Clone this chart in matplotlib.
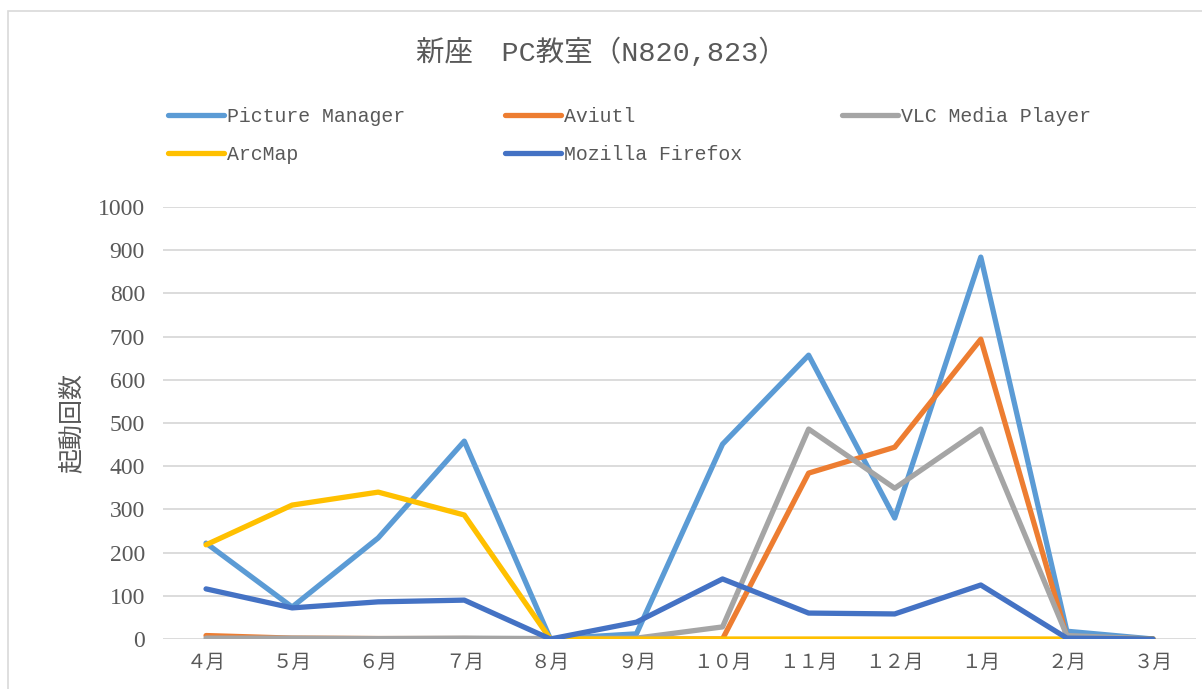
import matplotlib
matplotlib.use("Agg")
import matplotlib.pyplot as plt
from matplotlib.patches import Rectangle
import numpy as np

months = ["４月", "５月", "６月", "７月", "８月", "９月", "１０月", "１１月", "１２月", "１月", "２月", "３月"]

picture_manager = [222, 74, 234, 458, 0, 12, 451, 657, 280, 884, 18, 0]
aviutl = [8, 2, 1, 1, 0, 0, 0, 384, 444, 694, 5, 0]
vlc = [2, 2, 1, 2, 1, 2, 28, 486, 349, 486, 8, 0]
arcmap = [218, 310, 340, 287, 0, 0, 0, 0, 0, 0, 0, 0]
firefox = [116, 72, 86, 90, 0, 39, 139, 60, 58, 125, 2, 0]

series_names = ["Picture Manager", "Aviutl", "VLC Media Player", "ArcMap", "Mozilla Firefox"]
series_vals = [picture_manager, aviutl, vlc, arcmap, firefox]
colors = ["#5B9BD5", "#ED7D31", "#A5A5A5", "#FFC000", "#4472C4"]

txt = "#595959"
mono = ["Liberation Mono", "Noto Sans CJK JP"]
cjk = ["Noto Sans CJK JP", "DejaVu Sans"]

fig = plt.figure(figsize=(12.02, 6.89), dpi=100)
ax = fig.add_axes([163 / 1202, 50 / 689, 1033 / 1202, 432 / 689])

# chart border (cut off at right/bottom like the screenshot)
fig.patches.append(Rectangle((8 / 1202, -0.1), 1.2, (689 - 11) / 689 + 0.1,
                             transform=fig.transFigure, fill=False,
                             edgecolor="#D9D9D9", lw=1.2))

x = np.arange(len(months))
lines = []
for name, vals, c in zip(series_names, series_vals, colors):
    ln, = ax.plot(x, vals, color=c, lw=3.8, label=name,
                  solid_capstyle="round", solid_joinstyle="round")
    lines.append(ln)

ax.set_xlim(-0.5, 11.5)
ax.set_ylim(0, 1000)
ax.set_yticks(np.arange(0, 1001, 100))
ax.set_xticks(x)
ax.set_xticklabels(months, family=cjk, fontsize=14, color=txt)
for lab in ax.get_yticklabels():
    lab.set_family("Liberation Serif")
    lab.set_fontsize(17)
    lab.set_color(txt)
ax.tick_params(axis="both", length=0)
ax.tick_params(axis="y", pad=13)
ax.tick_params(axis="x", pad=9)
ax.grid(axis="y", color="#D9D9D9", lw=1.3)
ax.set_axisbelow(True)
for s in ax.spines.values():
    s.set_visible(False)

fig.text(601 / 1202, 1 - 52 / 689, "新座　PC教室（N820,823）", ha="center", va="center",
         family=mono, fontsize=20.5, color=txt)
fig.text(72 / 1202, 1 - 423 / 689, "起動回数", rotation=90, ha="center", va="center",
         family=cjk, fontsize=18, color=txt)

order = [0, 3, 1, 4, 2]
leg = fig.legend([lines[i] for i in order], [series_names[i] for i in order],
                 loc="upper left", bbox_to_anchor=(160 / 1202, 1 - 99 / 689),
                 ncol=3, frameon=False, handlelength=2.8, handletextpad=0.15,
                 columnspacing=5.05, labelspacing=0.95, borderaxespad=0,
                 prop={"family": mono, "size": 14.3})
for t in leg.get_texts():
    t.set_color(txt)

fig.savefig("out.png", dpi=100)
